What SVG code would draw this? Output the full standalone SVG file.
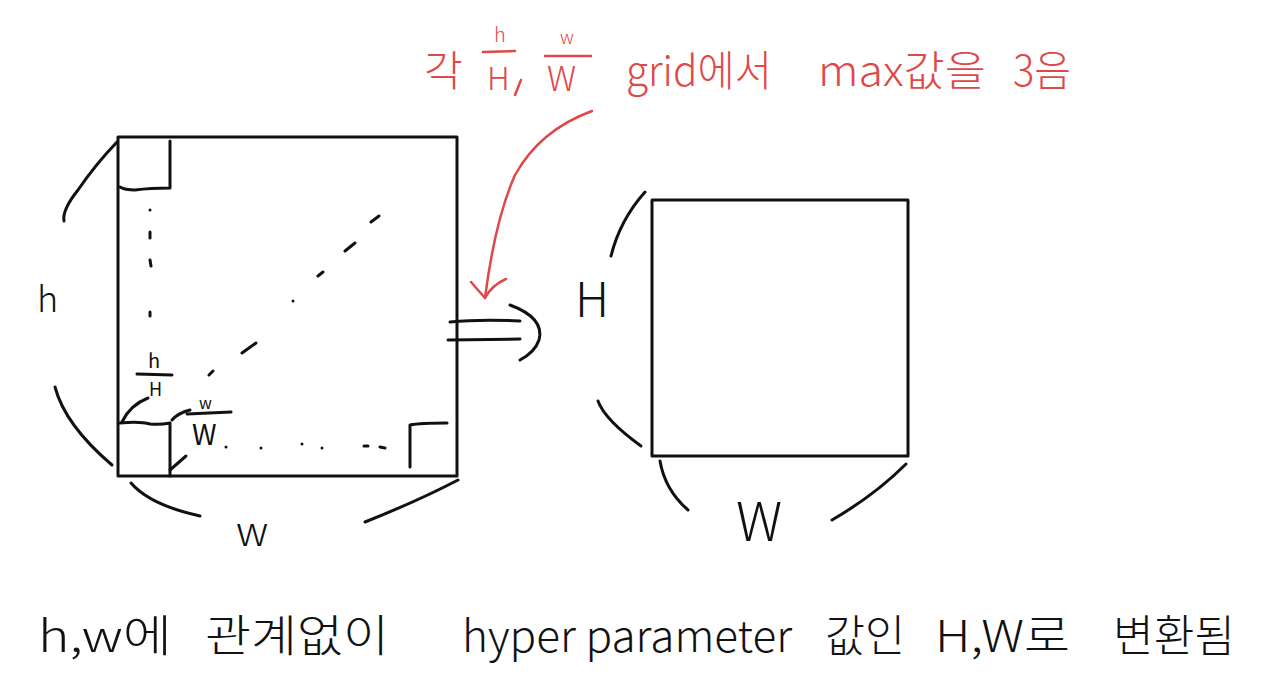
<svg xmlns="http://www.w3.org/2000/svg" width="1264" height="700" viewBox="0 0 1264 700">
<style>
.k{fill:none;stroke:#111;stroke-width:3;stroke-linecap:round;stroke-linejoin:round}
.r{fill:none;stroke:#e04848;stroke-width:2.5;stroke-linecap:round;stroke-linejoin:round}
.t{font-family:"Noto Sans CJK KR","Liberation Sans",sans-serif;font-weight:300;fill:#111}
.tr{font-family:"Noto Sans CJK KR","Liberation Sans",sans-serif;font-weight:300;fill:#e04848}
.d{fill:none;stroke:#111;stroke-width:3;stroke-linecap:round}
</style>
<rect width="1264" height="700" fill="#fff"/>
<g id="input-map">
<rect class="k" x="118" y="137" width="339" height="339"/>
<path class="k" d="M170,141 L170,188 Q150,188 135,190 Q125,190 120,187"/>
<path class="d" d="M150,210 L150,210 M150,232 L150,238 M150,260 L151,266 M150,312 L150,316"/>
<path class="d" d="M209,375 L213,371 M242,353 L256,343 M293,301 L293,301 M318,276 L323,272 M345,251 L355,243 M371,222 L379,216"/>
<path class="d" d="M226,447 L226,447 M261,448 L261,448 M302,444 L302,444 M322,448 L322,448 M364,446 L368,446 M380,447 L385,448"/>
<path class="k" d="M120,423 Q140,421 150,424 Q160,425 170,423 L170,476"/>
<path class="k" d="M410,467 L410,425 Q420,423 447,423"/>
<path class="k" d="M122,422 Q130,405 148,398"/>
<path class="k" d="M172,420 Q178,413 190,410"/>
<path class="k" d="M170,470 L186,456"/>
<g class="t">
<text x="148" y="368" font-size="20" font-weight="400">h</text>
<text x="149" y="396" font-size="18" font-weight="400">H</text>
<text x="199" y="409" font-size="16" font-weight="400">w</text>
<text x="192" y="445" font-size="28" font-weight="400">W</text>
</g>
<path class="k" d="M137,374 L172,375"/>
<path class="k" d="M187,414 L231,412"/>
</g>
<g id="label-h">
<path class="k" d="M117,142 Q95,165 78,190 Q62,210 64,221"/>
<path class="k" d="M55,387 Q65,425 112,465"/>
<text class="t" x="37" y="312" font-size="36">h</text>
</g>
<g id="label-w">
<path class="k" d="M131,483 Q150,505 200,516"/>
<path class="k" d="M365,522 Q420,500 458,480"/>
<text class="t" x="236" y="546" font-size="42">w</text>
</g>
<g id="output-map">
<rect class="k" x="652" y="200" width="256" height="256"/>
</g>
<g id="label-H">
<path class="k" d="M645,192 Q620,220 611,256"/>
<path class="k" d="M598,401 Q605,420 641,446"/>
<text class="t" x="575" y="317" font-size="48">H</text>
</g>
<g id="label-W">
<path class="k" d="M660,461 Q665,490 688,510"/>
<path class="k" d="M832,520 Q875,495 906,464"/>
<text class="t" x="736" y="541" font-size="54">W</text>
</g>
<g id="connectors">
<path class="k" d="M450,322 Q480,319 520,321"/>
<path class="k" d="M448,340 L520,339"/>
<path class="k" d="M510,305 Q545,318 539,340 Q535,352 520,360"/>
<path class="r" d="M592,111 Q540,130 515,175 Q495,220 485,298"/>
<path class="r" d="M471,282 L485,298 Q492,285 506,279"/>
</g>
<g id="top-note">
<text class="tr" x="424" y="86" font-size="42">각</text>
<text class="tr" x="494" y="42" font-size="20">h</text>
<path class="r" d="M483,52 L515,51"/>
<text class="tr" x="487" y="90" font-size="32">H</text>
<path class="r" d="M521,80 L515,95"/>
<text class="tr" x="560" y="44" font-size="18">w</text>
<path class="r" d="M545,56 L591,56"/>
<text class="tr" x="547" y="91" font-size="34">W</text>
<text class="tr" x="626" y="86" font-size="42" textLength="146" lengthAdjust="spacingAndGlyphs">grid에서</text>
<text class="tr" x="818" y="86" font-size="42" textLength="168" lengthAdjust="spacingAndGlyphs">max값을</text>
<text class="tr" x="1013" y="86" font-size="42" textLength="58" lengthAdjust="spacingAndGlyphs">3음</text>
</g>
<g id="bottom-note" class="t" font-size="44">
<text x="38" y="652" textLength="134" lengthAdjust="spacingAndGlyphs">h,w에</text>
<text x="205" y="652" textLength="184" lengthAdjust="spacingAndGlyphs">관계없이</text>
<text x="462" y="652" textLength="330" lengthAdjust="spacingAndGlyphs">hyper parameter</text>
<text x="825" y="652" textLength="80" lengthAdjust="spacingAndGlyphs">값인</text>
<text x="935" y="652" textLength="135" lengthAdjust="spacingAndGlyphs">H,W로</text>
<text x="1113" y="652" textLength="122" lengthAdjust="spacingAndGlyphs">변환됨</text>
</g>
</svg>
